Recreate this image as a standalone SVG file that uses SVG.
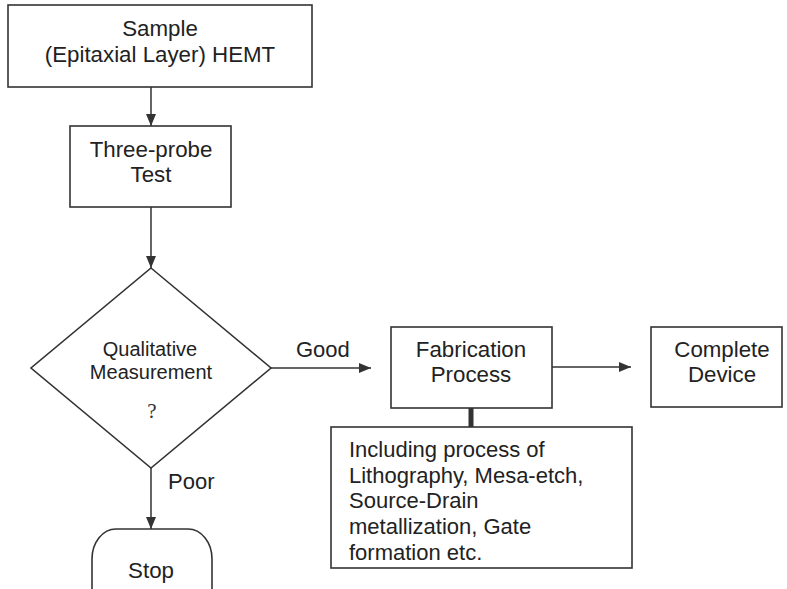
<svg xmlns="http://www.w3.org/2000/svg" width="787" height="589" viewBox="0 0 787 589">
<defs>
<marker id="ah" viewBox="0 0 12 10" refX="12" refY="5" markerWidth="12" markerHeight="10" markerUnits="userSpaceOnUse" orient="auto">
<path d="M0,0 L12,5 L0,10 Z" fill="#333"/>
</marker>
<style>
.box{fill:#fff;stroke:#333;stroke-width:1.6}
.t{font-family:"Liberation Sans",Arial,sans-serif;font-size:22.3px;fill:#222;text-anchor:middle}
.tl{font-family:"Liberation Sans",Arial,sans-serif;font-size:22px;fill:#222}
.ts{font-family:"Liberation Sans",Arial,sans-serif;font-size:20px;fill:#222;text-anchor:middle}
.q{font-family:"Liberation Serif","Times New Roman",serif;font-size:21px;fill:#333;text-anchor:middle}
.c{fill:none;stroke:#333;stroke-width:1.5}
</style>
</defs>
<rect width="787" height="589" fill="#fff"/>
<g id="connectors">
<line class="c" x1="151" y1="87" x2="151" y2="126" marker-end="url(#ah)"/>
<line class="c" x1="151" y1="207" x2="151" y2="268" marker-end="url(#ah)"/>
<line class="c" x1="271" y1="368" x2="371" y2="368" marker-end="url(#ah)"/>
<line class="c" x1="552" y1="367" x2="631" y2="367" marker-end="url(#ah)"/>
<line class="c" x1="151" y1="468" x2="151" y2="529" marker-end="url(#ah)"/>
<line x1="471" y1="408" x2="471" y2="427" stroke="#333" stroke-width="5"/>
<text class="tl" x="296" y="357">Good</text>
<text class="tl" x="168" y="489">Poor</text>
</g>
<g id="sample">
<rect class="box" x="8" y="5" width="304" height="82"/>
<text class="t" x="160" y="36">Sample</text>
<text class="t" x="160" y="62">(Epitaxial Layer) HEMT</text>
</g>
<g id="three-probe">
<rect class="box" x="70" y="126" width="161" height="81"/>
<text class="t" x="151" y="157">Three-probe</text>
<text class="t" x="151" y="182">Test</text>
</g>
<g id="decision">
<polygon class="box" points="151,268 271,368 151,468 31,368"/>
<text class="ts" x="150" y="356">Qualitative</text>
<text class="ts" x="151" y="379">Measurement</text>
<text class="q" x="152" y="418">?</text>
</g>
<g id="fabrication">
<rect class="box" x="391" y="327" width="161" height="81"/>
<text class="t" x="471" y="357">Fabrication</text>
<text class="t" x="471" y="382">Process</text>
</g>
<g id="complete">
<rect class="box" x="651" y="327" width="131" height="80"/>
<text class="t" x="722" y="357">Complete</text>
<text class="t" x="722" y="382">Device</text>
</g>
<g id="details">
<rect class="box" x="331" y="427" width="301" height="141"/>
<text class="tl" x="349" y="457">Including process of</text>
<text class="tl" x="349" y="483">Lithography, Mesa-etch,</text>
<text class="tl" x="349" y="508">Source-Drain</text>
<text class="tl" x="349" y="534">metallization, Gate</text>
<text class="tl" x="349" y="560">formation etc.</text>
</g>
<g id="stop">
<rect class="box" x="92" y="529" width="120" height="90" rx="24" ry="30"/>
<text class="t" x="151" y="578">Stop</text>
</g>
</svg>
